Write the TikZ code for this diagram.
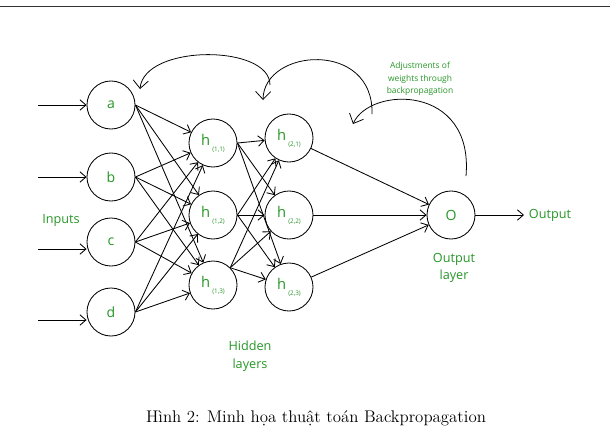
\documentclass[tikz,border=0pt]{standalone}
\usepackage{fontspec}
\newfontfamily\diafont{Open Sans}
\usetikzlibrary{arrows.meta}
\definecolor{lblgreen}{RGB}{38,150,38}
\newcommand{\hsub}[1]{{\fontsize{10.5}{12}\selectfont h}\,\raisebox{-0.9ex}{\fontsize{4.5}{5}\selectfont(#1)}}

\begin{document}
\begin{tikzpicture}[x=0.025cm,y=-0.025cm,
  every node/.style={font=\diafont\fontsize{9}{12.5}\selectfont},
  nrn/.style={draw=black,circle,line width=0.6pt,minimum size=1.2cm,inner sep=0pt,text=lblgreen},
  lbl/.style={text=lblgreen,align=center},
  ar/.style={-{Straight Barb[length=1.5mm,width=2.6mm]},line width=0.6pt},
  bp/.style={-{Straight Barb[length=2mm,width=3.8mm]},line width=0.55pt}]
\useasboundingbox (0,0) rectangle (610,447);
\draw[line width=0.5pt,black!80] (0,6) -- (610,6);
% input layer
\node[nrn,font=\diafont\fontsize{10}{12}\selectfont] (a) at (111,105) {a};
\node[nrn,font=\diafont\fontsize{10}{12}\selectfont] (b) at (111,177) {b};
\node[nrn,font=\diafont\fontsize{10}{12}\selectfont] (c) at (111,242) {c};
\node[nrn,font=\diafont\fontsize{10}{12}\selectfont] (d) at (111,312) {d};
\coordinate (ina) at (38,105); \coordinate (inb) at (38,177);
\coordinate (inc) at (38,249); \coordinate (ind) at (38,320);
\draw[ar] (ina) -- (a); \draw[ar] (inb) -- (b);
\draw[ar] (inc) -- (inc -| c.west); \draw[ar] (ind) -- (ind -| d.west);
% hidden layers
\node[nrn] (h11) at (213,143) {\hsub{1,1}};
\node[nrn] (h12) at (213,215) {\hsub{1,2}};
\node[nrn] (h13) at (213,285) {\hsub{1,3}};
\node[nrn] (h21) at (289,138) {\hsub{2,1}};
\node[nrn] (h22) at (289,215) {\hsub{2,2}};
\node[nrn] (h23) at (289,287) {\hsub{2,3}};
% output layer
\node[nrn,font=\diafont\fontsize{10}{12}\selectfont] (o) at (451,215) {O};
\node[lbl,anchor=west] (out) at (524,215) {Output};
% labels
\node[lbl] (inlbl) at (61,220) {Inputs};
\node[lbl] (hidlbl) at (250,356) {Hidden\\layers};
\node[lbl] (outlyr) at (454,268) {Output\\layer};
\node[lbl,font=\diafont\fontsize{6}{9}\selectfont] (adj) at (420,79) {Adjustments of\\weights through\\backpropagation};
% connections
\draw[ar] (a.east) -- (h11); \draw[ar] (a.east) -- (h12); \draw[ar] (a.east) -- (h13);
\draw[ar] (b.east) -- (h11); \draw[ar] (b.east) -- (h12); \draw[ar] (b.east) -- (h13);
\draw[ar] (c.east) -- (h11); \draw[ar] (c.east) -- (h12); \draw[ar] (c.east) -- (h13);
\draw[ar] (d.east) -- (h11); \draw[ar] (d.east) -- (h12); \draw[ar] (d.east) -- (h13);
\draw[ar] (h11.east) -- (h21); \draw[ar] (h11.east) -- (h22); \draw[ar] (h11.east) -- (h23);
\draw[ar] (h12.east) -- (h21); \draw[ar] (h12.east) -- (h22); \draw[ar] (h12.east) -- (h23);
\draw[ar] (h13.north east) -- (h21); \draw[ar] (h13.north east) -- (h22); \draw[ar] (h13.north east) -- (h23);
\draw[ar] (h21) -- (o); \draw[ar] (h22) -- (o); \draw[ar] (h23) -- (o);
\draw[ar] (o) -- (out);
% backpropagation arcs
\coordinate (bp3s) at (466,176); \coordinate (bp3e) at (353,124);
\coordinate (bp2s) at (372,114); \coordinate (bp2e) at (263,100);
\coordinate (bp1s) at (270,85);  \coordinate (bp1e) at (140,89);
\draw[bp] (bp3s) .. controls (474,84) and (370,86) .. (bp3e);
\draw[bp] (bp2s) .. controls (374,40) and (264,48) .. (bp2e);
\draw[bp] (bp1s) .. controls (270,44) and (144,44) .. (bp1e);
% caption
\node[font=\rmfamily\fontsize{12}{14}\selectfont] (cap) at (316,418) {Hình 2: Minh họa thuật toán Backpropagation};
\end{tikzpicture}
\end{document}
